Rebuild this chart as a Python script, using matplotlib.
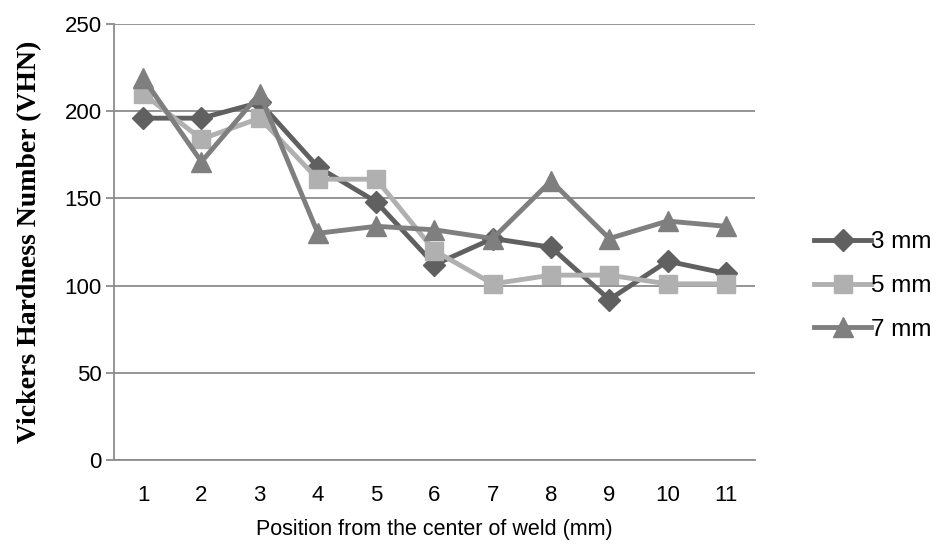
import matplotlib.pyplot as plt

positions = [1, 2, 3, 4, 5, 6, 7, 8, 9, 10, 11]
hv_3mm = [196, 196, 205, 168, 148, 112, 127, 122, 92, 114, 107]
hv_5mm = [210, 184, 196, 161, 161, 120, 101, 106, 106, 101, 101]
hv_7mm = [219, 171, 210, 130, 134, 132, 127, 160, 127, 137, 134]
series_labels = ['3 mm', '5 mm', '7 mm']

plt.rcParams['font.family'] = ['Liberation Sans', 'DejaVu Sans']

fig = plt.figure(figsize=(9.37, 5.5), dpi=100)
ax = fig.add_axes([0.1217, 0.1636, 0.684, 0.7928])

ax.plot(positions, hv_3mm, color='#606060', lw=3.5, marker='D', ms=11, label=series_labels[0], zorder=3)
ax.plot(positions, hv_5mm, color='#b0b0b0', lw=3.5, marker='s', ms=13, label=series_labels[1], zorder=4)
ax.plot(positions, hv_7mm, color='#7f7f7f', lw=3.5, marker='^', ms=14, label=series_labels[2], zorder=5)

ax.set_xlim(0.5, 11.5)
ax.set_ylim(0, 250)
ax.set_yticks(range(0, 251, 50))
ax.set_xticks(positions)
ax.grid(axis='y', color='#8c8c8c', lw=1.3)
ax.set_axisbelow(True)
for s in ['top', 'right']:
    ax.spines[s].set_visible(False)
ax.spines['left'].set_color('#8c8c8c')
ax.spines['bottom'].set_color('#8c8c8c')
ax.spines['left'].set_linewidth(1.3)
ax.spines['bottom'].set_linewidth(1.3)
ax.tick_params(axis='y', length=6, width=1.3, color='#8c8c8c', labelsize=16, pad=3)
ax.tick_params(axis='x', length=0, labelsize=16, pad=18)

ax.set_xlabel('Position from the center of weld (mm)', fontsize=15.5, labelpad=9)
ax.set_ylabel('Vickers Hardness Number (VHN)', fontsize=20, fontweight='bold',
              family=['Liberation Serif', 'DejaVu Serif'], labelpad=16)

fig.legend(loc='center left', bbox_to_anchor=(0.856, 0.48), frameon=False, fontsize=17.5,
           handlelength=2.35, handletextpad=0.0, labelspacing=0.9, borderpad=0)

fig.savefig('out.png', dpi=100)
